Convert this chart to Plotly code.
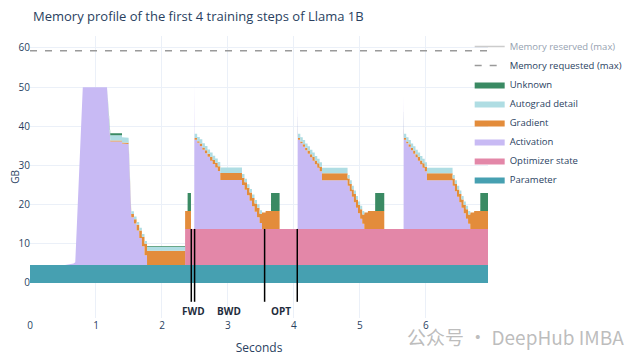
import numpy as np
import plotly.graph_objects as go

# ---------------- data (GB vs seconds) ----------------
t_end = 6.94

parameter = [(0.0, 4.6), (6.94, 4.6)]

optimizer_state = [(0.0, 0.0), (2.35, 0.0), (2.35, 9.2), (6.94, 9.2)]

activation = [
    # step 1
    (0.00, 0.0), (0.53, 0.0), (0.66, 0.4), (0.686, 0.7), (0.80, 45.4), (1.167, 45.4),
    (1.217, 31.5), (1.394, 31.5), (1.394, 31.0), (1.494, 30.9), (1.535, 12.2),
    (1.575, 12.2), (1.575, 10.6), (1.615, 10.6), (1.615, 8.8), (1.655, 8.8), (1.655, 6.9),
    (1.695, 6.9), (1.695, 4.8), (1.735, 4.8), (1.735, 2.5), (1.773, 2.5), (1.773, 0.0),
    # step 2
    (2.489, 0.0), (2.490, 37.2), (2.494, 22.8),
    (2.533, 22.8), (2.533, 22.0), (2.572, 22.0), (2.572, 21.2), (2.611, 21.2), (2.611, 20.2),
    (2.650, 20.2), (2.650, 19.3), (2.689, 19.3), (2.689, 18.4), (2.728, 18.4), (2.728, 17.4),
    (2.767, 17.4), (2.767, 16.6), (2.806, 16.6), (2.806, 15.7), (2.845, 15.7), (2.845, 14.8),
    (2.883, 14.8), (2.883, 12.5), (3.212, 12.5), (3.212, 11.2), (3.250, 11.2), (3.250, 10.0),
    (3.288, 10.0), (3.288, 8.6), (3.326, 8.6), (3.326, 7.2), (3.364, 7.2), (3.364, 5.8),
    (3.402, 5.8), (3.402, 4.4), (3.440, 4.4), (3.440, 3.0), (3.478, 3.0), (3.478, 1.5),
    (3.515, 1.5), (3.515, 0.0),
    # step 3
    (4.055, 0.0), (4.056, 32.2), (4.060, 22.8),
    (4.096, 22.8), (4.096, 21.9), (4.133, 21.9), (4.133, 21.0), (4.169, 21.0), (4.169, 20.1),
    (4.206, 20.1), (4.206, 19.2), (4.242, 19.2), (4.242, 18.3), (4.279, 18.3), (4.279, 17.4),
    (4.315, 17.4), (4.315, 16.5), (4.352, 16.5), (4.352, 15.6), (4.388, 15.6), (4.388, 14.7),
    (4.424, 14.7), (4.424, 12.4), (4.812, 12.4), (4.812, 11.0), (4.844, 11.0), (4.844, 9.6),
    (4.876, 9.6), (4.876, 8.2), (4.907, 8.2), (4.907, 6.8), (4.939, 6.8), (4.939, 5.4),
    (4.970, 5.4), (4.970, 4.0), (5.002, 4.0), (5.002, 2.6), (5.034, 2.6), (5.034, 1.3),
    (5.065, 1.3), (5.065, 0.0),
    # step 4
    (5.661, 0.0), (5.662, 34.2), (5.666, 22.8),
    (5.701, 22.8), (5.701, 21.9), (5.736, 21.9), (5.736, 21.0), (5.771, 21.0), (5.771, 20.1),
    (5.806, 20.1), (5.806, 19.2), (5.841, 19.2), (5.841, 18.3), (5.876, 18.3), (5.876, 17.4),
    (5.911, 17.4), (5.911, 16.5), (5.946, 16.5), (5.946, 15.6), (5.981, 15.6), (5.981, 14.7),
    (6.015, 14.7), (6.015, 12.4), (6.403, 12.4), (6.403, 11.0), (6.437, 11.0), (6.437, 9.6),
    (6.470, 9.6), (6.470, 8.2), (6.504, 8.2), (6.504, 6.8), (6.537, 6.8), (6.537, 5.4),
    (6.571, 5.4), (6.571, 4.0), (6.604, 4.0), (6.604, 2.6), (6.638, 2.6), (6.638, 1.3),
    (6.671, 1.3), (6.671, 0.0), (6.94, 0.0),
]

gradient = [
    (0.0, 0.0), (1.167, 0.0), (1.217, 0.3), (1.494, 0.3), (1.535, 0.8),
    (1.575, 0.8), (1.575, 1.1), (1.615, 1.1), (1.615, 1.5), (1.655, 1.5), (1.655, 1.9),
    (1.695, 1.9), (1.695, 2.4), (1.735, 2.4), (1.735, 2.9), (1.773, 2.9), (1.773, 3.6),
    (2.35, 3.6), (2.35, 4.6), (2.439, 4.6), (2.439, 0.0),
    (2.494, 0.0), (2.494, 0.4), (2.572, 0.4), (2.572, 0.6), (2.650, 0.6), (2.650, 0.8),
    (2.728, 0.8), (2.728, 1.0), (2.806, 1.0), (2.806, 1.2), (2.883, 1.2), (2.883, 1.8),
    (3.212, 1.8), (3.212, 1.9), (3.326, 1.9), (3.326, 2.1), (3.440, 2.1), (3.440, 2.4),
    (3.515, 2.4), (3.515, 4.2), (3.57, 4.2), (3.57, 4.6), (3.782, 4.6), (3.782, 0.0),
    (4.060, 0.0), (4.060, 0.4), (4.133, 0.4), (4.133, 0.6), (4.206, 0.6), (4.206, 0.8),
    (4.279, 0.8), (4.279, 1.0), (4.352, 1.0), (4.352, 1.2), (4.424, 1.2), (4.424, 1.8),
    (4.812, 1.8), (4.812, 1.9), (4.907, 1.9), (4.907, 2.1), (5.002, 2.1), (5.002, 2.4),
    (5.065, 2.4), (5.065, 4.2), (5.12, 4.2), (5.12, 4.6), (5.368, 4.6), (5.368, 0.0),
    (5.666, 0.0), (5.666, 0.4), (5.736, 0.4), (5.736, 0.6), (5.806, 0.6), (5.806, 0.8),
    (5.876, 0.8), (5.876, 1.0), (5.946, 1.0), (5.946, 1.2), (6.015, 1.2), (6.015, 1.8),
    (6.403, 1.8), (6.403, 1.9), (6.504, 1.9), (6.504, 2.1), (6.604, 2.1), (6.604, 2.4),
    (6.671, 2.4), (6.671, 4.2), (6.73, 4.2), (6.73, 4.6), (6.94, 4.6),
]

autograd_detail = [
    (0.0, 0.0), (1.167, 0.0), (1.217, 1.3), (1.494, 1.3), (1.535, 0.7), (1.773, 0.7),
    (1.773, 1.0), (2.35, 1.0), (2.35, 0.0),
    (2.494, 0.0), (2.494, 1.1), (2.883, 1.1), (2.883, 1.4), (3.212, 1.4), (3.212, 0.9),
    (3.515, 0.9), (3.515, 0.0),
    (4.060, 0.0), (4.060, 1.1), (4.424, 1.1), (4.424, 1.4), (4.812, 1.4), (4.812, 0.9),
    (5.065, 0.9), (5.065, 0.0),
    (5.666, 0.0), (5.666, 1.1), (6.015, 1.1), (6.015, 1.4), (6.403, 1.4), (6.403, 0.9),
    (6.671, 0.9), (6.671, 0.0), (6.94, 0.0),
]

unknown = [
    (0.0, 0.0), (1.167, 0.0), (1.217, 0.5), (1.394, 0.5), (1.394, 0.0), (1.773, 0.0),
    (1.773, 0.2), (2.35, 0.2), (2.35, 0.0), (2.388, 0.0), (2.388, 4.6), (2.439, 4.6),
    (2.439, 0.0), (3.652, 0.0), (3.652, 4.6), (3.782, 4.6), (3.782, 0.0),
    (5.23, 0.0), (5.23, 4.6), (5.368, 4.6), (5.368, 0.0),
    (6.823, 0.0), (6.823, 4.6), (6.94, 4.6),
]

memory_requested_max = 59.3
memory_reserved_max = 61.0

phase_bounds = [2.444, 2.494, 3.555, 4.05]
phase_labels = ["FWD", "BWD", "OPT"]
phase_label_x = [2.48, 3.02, 3.80]

x_ticks = [0, 1, 2, 3, 4, 5, 6]
y_ticks = [0, 10, 20, 30, 40, 50, 60]

# ---------------- build a common time grid for stacking ----------------
def vertices(points):
    """Turn a list of (t, v) vertices into strictly increasing x arrays
    (repeated times mark vertical steps)."""
    xs, ys = [], []
    for t, v in points:
        if xs and t <= xs[-1]:
            t = xs[-1] + 0.0005
        xs.append(t)
        ys.append(v)
    return np.array(xs), np.array(ys)

series = [
    ("Parameter", parameter, "#46a0b1"),
    ("Optimizer state", optimizer_state, "#e387a8"),
    ("Activation", activation, "#c8baf4"),
    ("Gradient", gradient, "#e38c3b"),
    ("Autograd detail", autograd_detail, "#afdde3"),
    ("Unknown", unknown, "#3a8a63"),
]

converted = [vertices(p) for _, p, _ in series]
grid = np.unique(np.concatenate([c[0] for c in converted]))

fig = go.Figure()
for (name, _, color), (xs, ys) in zip(series, converted):
    fig.add_trace(go.Scatter(
        x=grid, y=np.interp(grid, xs, ys), name=name, mode="lines",
        stackgroup="mem", line=dict(width=0, color=color), fillcolor=color,
        hoverinfo="skip",
    ))

fig.add_trace(go.Scatter(
    x=[0, t_end], y=[memory_requested_max] * 2, name="Memory requested (max)",
    mode="lines", line=dict(color="#9a9a9a", width=1.5, dash="7px,8px"),
))
fig.add_trace(go.Scatter(
    x=[0, t_end], y=[memory_reserved_max] * 2, name="Memory reserved (max)",
    mode="lines", line=dict(color="#9a9a9a", width=1.5), visible="legendonly",
))

# phase markers
for b in phase_bounds:
    fig.add_shape(type="line", xref="x", yref="y", x0=b, x1=b, y0=13.8, y1=-4.8,
                  line=dict(color="black", width=1.5), layer="above")
for lab, lx in zip(phase_labels, phase_label_x):
    fig.add_annotation(x=lx, y=-7.2, xref="x", yref="y", text=f"<b>{lab}</b>",
                       showarrow=False, font=dict(size=10, color="#1f2d3d"))

# ---------------- layout (page offset of 8 px from the html body margin) ----------------
OFF = 8
W, H = 640 - OFF, 356 - OFF
PL, PR, PT, PB = 30 - OFF, 488 - OFF, 36 - OFF, 318 - OFF   # plot area in figure px
pw, ph = PR - PL, PB - PT

def paper_x(px):
    return (px - OFF - PL) / pw

def paper_y(py):
    return (PB - (py - OFF)) / ph

# watermark
fig.add_annotation(x=paper_x(626), y=paper_y(336), xref="paper", yref="paper",
                   xanchor="right", yanchor="middle", showarrow=False,
                   text="公众号 · DeepHub IMBA",
                   font=dict(family="Noto Sans CJK SC", size=19, color="rgba(160,160,160,0.7)"))

fig.update_layout(
    template="plotly_white",
    width=W, height=H,
    margin=dict(l=PL, r=W - PR, t=PT, b=H - PB),
    font=dict(family="Open Sans", size=10, color="#2a3f5f"),
    title=dict(text="Memory profile of the first 4 training steps of Llama 1B",
               x=(33 - OFF) / W, xanchor="left", y=1 - (16 - OFF) / H, yanchor="middle",
               font=dict(size=13)),
    legend=dict(x=0.96, y=paper_y(32), xanchor="left", yanchor="top", traceorder="reversed",
                font=dict(size=9.5), bgcolor="rgba(0,0,0,0)"),
    xaxis=dict(range=[0, t_end], tickvals=x_ticks, title=dict(text="Seconds"),
               automargin=False, showgrid=True, zeroline=False),
    yaxis=dict(range=[-8.94, 63.06], tickvals=y_ticks,
               title=dict(text="GB", standoff=12, font=dict(size=10)),
               ticklabelstandoff=-1, automargin=False, zeroline=False),
    showlegend=True,
)

fig.write_html("out.html")
